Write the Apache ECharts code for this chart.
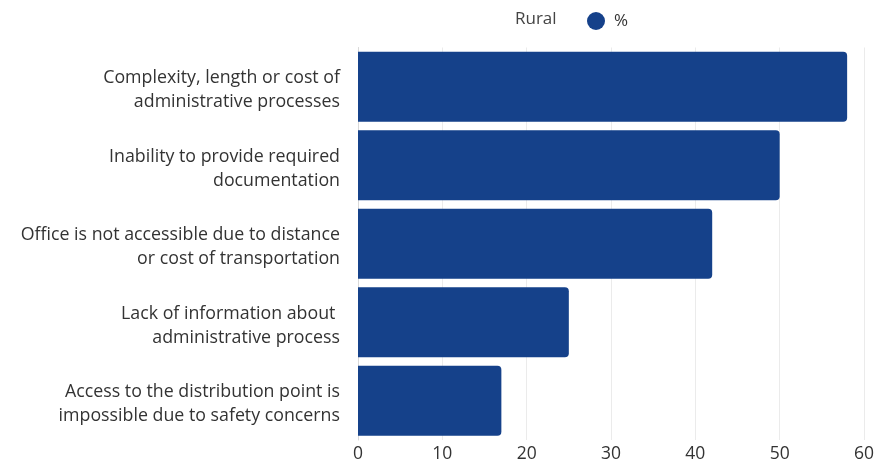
<!DOCTYPE html>
<html><head><meta charset="utf-8">
<script src="https://cdn.jsdelivr.net/npm/echarts@6/dist/echarts.min.js"></script>
<style>html,body{margin:0;padding:0;background:#fff}#c{width:890px;height:463px}</style>
</head><body><div id="c"></div>
<script>
const categories = [
  "Complexity, length or cost of\nadministrative processes",
  "Inability to provide required\ndocumentation",
  "Office is not accessible due to distance\nor cost of transportation",
  "Lack of information about \nadministrative process",
  "Access to the distribution point is\nimpossible due to safety concerns"
];
const values = [58, 50, 42, 25, 17];
const seriesName = "%";
const legendTitle = "Rural";
const xTicks = { min: 0, max: 60, interval: 10 };

const font = "'Open Sans', 'Noto Sans', sans-serif";
const chart = echarts.init(document.getElementById('c'), null, {renderer: 'canvas'});
chart.setOption({
  animation: false,
  title: { text: legendTitle, left: 510, top: 6, textStyle: { fontFamily: font, fontSize: 17, fontWeight: 'normal', color: '#444' } },
  legend: { data: [seriesName], left: 582, top: 7, icon: 'circle', itemWidth: 18, itemHeight: 18, itemGap: 8,
    textStyle: { fontFamily: font, fontSize: 17, color: '#333', padding: [0, 0, 0, 4] } },
  grid: { left: 358, right: 26, top: 47.5, bottom: 20.5, containLabel: false },
  xAxis: { type: 'value', min: xTicks.min, max: xTicks.max, interval: xTicks.interval,
    axisLine: { show: false }, axisTick: { show: false },
    splitLine: { lineStyle: { color: '#ebebeb' } },
    axisLabel: { fontFamily: font, fontSize: 17.5, color: '#333', margin: 5 } },
  yAxis: { type: 'category', data: categories, inverse: true,
    axisLine: { show: true, lineStyle: { color: '#d9d9d9' } }, axisTick: { show: false },
    axisLabel: { fontFamily: font, fontSize: 17.8, color: '#333', margin: 18, lineHeight: 24, align: 'right',
      formatter: function (v) {
        return '{s| }\n' + v.split('\n').map(function (p) { return '{a|' + p + '}'; }).join('\n');
      },
      rich: {
        s: { fontSize: 2, lineHeight: 7 },
        a: { fontFamily: font, fontSize: 17.8, color: '#333', lineHeight: 24 }
      } } },
  series: [{ name: seriesName, type: 'bar', data: values, barCategoryGap: '11%',
    itemStyle: { color: '#15418a', borderRadius: [0, 4, 4, 0] } }]
});
</script></body></html>
